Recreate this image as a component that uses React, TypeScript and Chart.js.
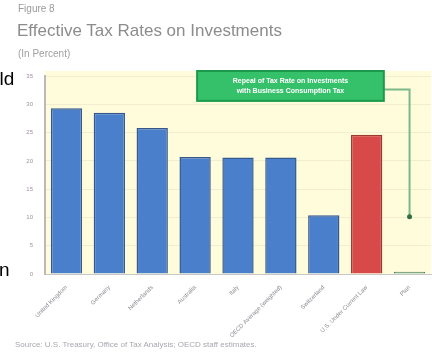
import React, { useEffect, useRef } from "react";
import { Chart, registerables } from "chart.js";

Chart.register(...registerables);

const categories = [
  "United Kingdom",
  "Germany",
  "Netherlands",
  "Australia",
  "Italy",
  "OECD Average (weighted)",
  "Switzerland",
  "U.S. Under Current Law",
  "Plan",
];
const values = [29.3, 28.5, 25.8, 20.7, 20.6, 20.6, 10.4, 24.6, 0.4];
const fillColors = ["#4a7fcc", "#4a7fcc", "#4a7fcc", "#4a7fcc", "#4a7fcc", "#4a7fcc", "#4a7fcc", "#d84a4a", "#5f9a78"];
const edgeColors = ["#35588f", "#35588f", "#35588f", "#35588f", "#35588f", "#35588f", "#35588f", "#9c3a32", "#4a7a5c"];
const yMin = 0;
const yMax = 35;
const yStep = 5;
const noteLines = ["Repeal of Tax Rate on Investments", "with Business Consumption Tax"];
// annotation anchors in data units
const noteBoxFrom = 3;
const noteBoxTo = 7.4;
const noteBoxBottom = 30.6;
const noteArrowAt = 32.6;
const noteTargetIndex = 8;
const noteTargetValue = 10.1;

const FONT = "'Liberation Sans', Arial, sans-serif";

const decorPlugin = {
  id: "decor",
  beforeDraw(chart: any) {
    const { ctx, chartArea: a } = chart;
    ctx.save();
    ctx.fillStyle = "#fffcdc";
    ctx.fillRect(a.left, a.top - 5, a.right - a.left, a.bottom - a.top + 5);
    ctx.restore();
  },
  afterDatasetsDraw(chart: any) {
    const { ctx, chartArea: a, scales } = chart;
    const x = scales.x;
    const y = scales.y;
    const left = x.getPixelForValue(noteBoxFrom) + 2;
    const right = x.getPixelForValue(noteBoxTo);
    const top = a.top - 5;
    const bottom = y.getPixelForValue(noteBoxBottom);
    const ay = y.getPixelForValue(noteArrowAt);
    const tx = x.getPixelForValue(noteTargetIndex);
    const ty = y.getPixelForValue(noteTargetValue);
    ctx.save();
    ctx.strokeStyle = "#7cb88a";
    ctx.lineWidth = 2;
    ctx.beginPath();
    ctx.moveTo(right, ay);
    ctx.lineTo(tx, ay);
    ctx.lineTo(tx, ty);
    ctx.stroke();
    ctx.fillStyle = "#2f6e42";
    ctx.beginPath();
    ctx.arc(tx, ty, 2.5, 0, Math.PI * 2);
    ctx.fill();
    ctx.fillStyle = "#35c06a";
    ctx.fillRect(left, top, right - left, bottom - top);
    ctx.strokeStyle = "#1b9a4c";
    ctx.lineWidth = 2;
    ctx.strokeRect(left, top, right - left, bottom - top);
    ctx.fillStyle = "#ffffff";
    ctx.font = `bold 7px ${FONT}`;
    ctx.textAlign = "center";
    ctx.textBaseline = "middle";
    const cx = (left + right) / 2;
    const h = bottom - top;
    ctx.fillText(noteLines[0], cx, top + h * 0.32);
    ctx.fillText(noteLines[1], cx, top + h * 0.68);
    ctx.restore();
  },
};

export default function App() {
  const ref = useRef<HTMLCanvasElement | null>(null);
  useEffect(() => {
    if (!ref.current) return;
    const chart = new Chart(ref.current, {
      type: "bar",
      data: {
        labels: categories,
        datasets: [
          {
            data: values,
            backgroundColor: fillColors,
            borderColor: edgeColors,
            borderWidth: 1.5,
            barPercentage: 0.73,
            categoryPercentage: 1,
          },
        ],
      },
      options: {
        responsive: false,
        animation: false,
        layout: { padding: { top: 16, right: 1, left: 0, bottom: 0 } },
        plugins: { legend: { display: false }, tooltip: { enabled: false } },
        scales: {
          x: {
            grid: { display: false, drawTicks: false },
            border: { display: true, color: "#c8c8c8" },
            ticks: {
              minRotation: 45,
              maxRotation: 45,
              padding: 10,
              color: "#8e8e96",
              font: { family: FONT, size: 6 },
              autoSkip: false,
            },
            afterFit(s: any) {
              s.height = 66;
            },
          },
          y: {
            min: yMin,
            max: yMax,
            grid: { color: "rgba(215,210,180,0.35)", drawTicks: false },
            border: { display: true, color: "#c0b8b8", width: 2 },
            ticks: {
              stepSize: yStep,
              padding: 12,
              color: "#a090a4",
              font: { family: FONT, size: 6 },
            },
            afterFit(s: any) {
              s.width = 45;
            },
          },
        },
      },
      plugins: [decorPlugin],
    });
    return () => chart.destroy();
  }, []);

  const soft = { filter: "blur(0.7px)" };

  return (
    <div
      style={{
        position: "fixed",
        left: 0,
        top: 0,
        width: 432,
        height: 354,
        overflow: "hidden",
        background: "#ffffff",
        fontFamily: FONT,
      }}
    >
      <div style={{ position: "absolute", left: 18, top: 3, fontSize: 10, color: "#9a9a9a", ...soft }}>Figure 8</div>
      <div style={{ position: "absolute", left: 17, top: 21, fontSize: 17, color: "#8c8c8c", ...soft }}>
        Effective Tax Rates on Investments
      </div>
      <div style={{ position: "absolute", left: 18, top: 48, fontSize: 10, color: "#a0a0a0", ...soft }}>(In Percent)</div>
      <canvas
        ref={ref}
        width={432}
        height={280}
        style={{ position: "absolute", left: 0, top: 60, width: 432, height: 280, ...soft }}
      />
      <div style={{ position: "absolute", left: -11, top: 68, fontSize: 19, color: "#000" }}>old</div>
      <div style={{ position: "absolute", left: -21, top: 259, fontSize: 19, color: "#000" }}>tion</div>
      <div style={{ position: "absolute", left: 15, top: 340, fontSize: 8, color: "#a8a8b0", ...soft }}>
        Source: U.S. Treasury, Office of Tax Analysis; OECD staff estimates.
      </div>
    </div>
  );
}
